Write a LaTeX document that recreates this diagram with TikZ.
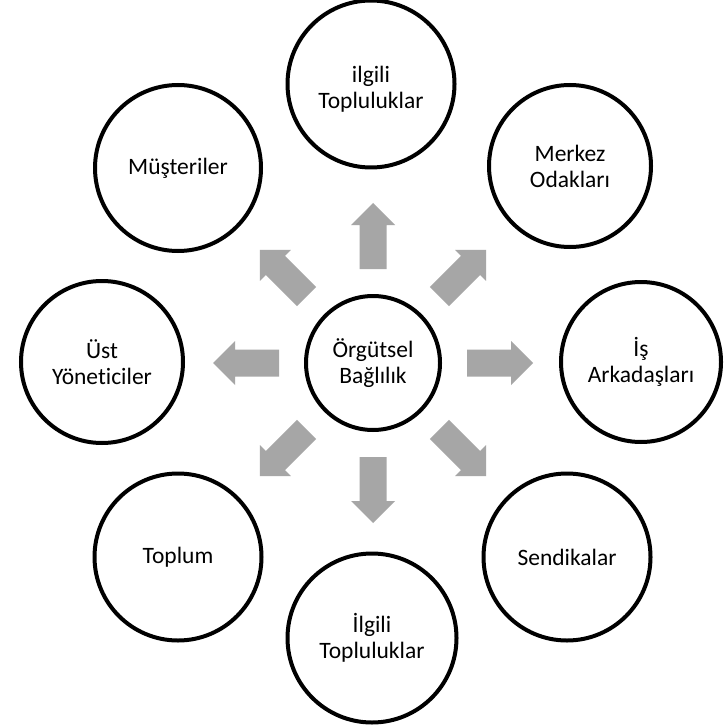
\documentclass[tikz,border=0pt]{standalone}
\usepackage{fontspec}
\setmainfont{Carlito}[Ligatures=NoCommon]
\begin{document}
\begin{tikzpicture}[x=1pt,y=-1pt,
  party/.style={circle,draw=black,line width=4pt,fill=white,align=center,
    font=\fontsize{23.5}{26}\selectfont,inner sep=0pt},
  caption/.style={align=center,font=\fontsize{23.5}{26}\selectfont,inner sep=0pt},
  blockarrow/.style={fill=arrowgray,draw=none}]
\definecolor{arrowgray}{HTML}{A6A6A6}
\useasboundingbox (0,0) rectangle (727,727);
\fill[white] (0,0) rectangle (727,727);

% central construct
\node[party,minimum size=134pt] (c) at (373,363) {Örgütsel\\Bağlılık};

% stakeholders around it
\node[party,minimum size=167pt] (top)  at (371,84)  {};
\node[caption] (toptext) at ([yshift=-5pt]top.center) {ilgili\\Topluluklar};
\node[party,minimum size=162pt] (mo)   at (570,166) {Merkez\\Odakları};
\node[party,minimum size=160pt] (ia)   at (641,362) {İş\\Arkadaşları};
\node[party,minimum size=167pt] (sen)  at (567,557) {Sendikalar};
\node[party,minimum size=169pt] (bot)  at (372,638) {İlgili\\Topluluklar};
\node[party,minimum size=167pt] (top2) at (178,557) {Toplum};
\node[party,minimum size=162pt] (uy)   at (102,362) {Üst\\Yöneticiler};
\node[party,minimum size=166pt] (mus)  at (178,168) {Müşteriler};

% eight block arrows pointing outwards from the centre
\foreach \a in {0,45,...,315}{
  \fill[blockarrow,shift={(c.center)},rotate=\a]
    (94,-13.5) -- (138,-13.5) -- (138,-22) -- (160,0) -- (138,22)
    -- (138,13.5) -- (94,13.5) -- cycle;
}
\end{tikzpicture}
\end{document}
